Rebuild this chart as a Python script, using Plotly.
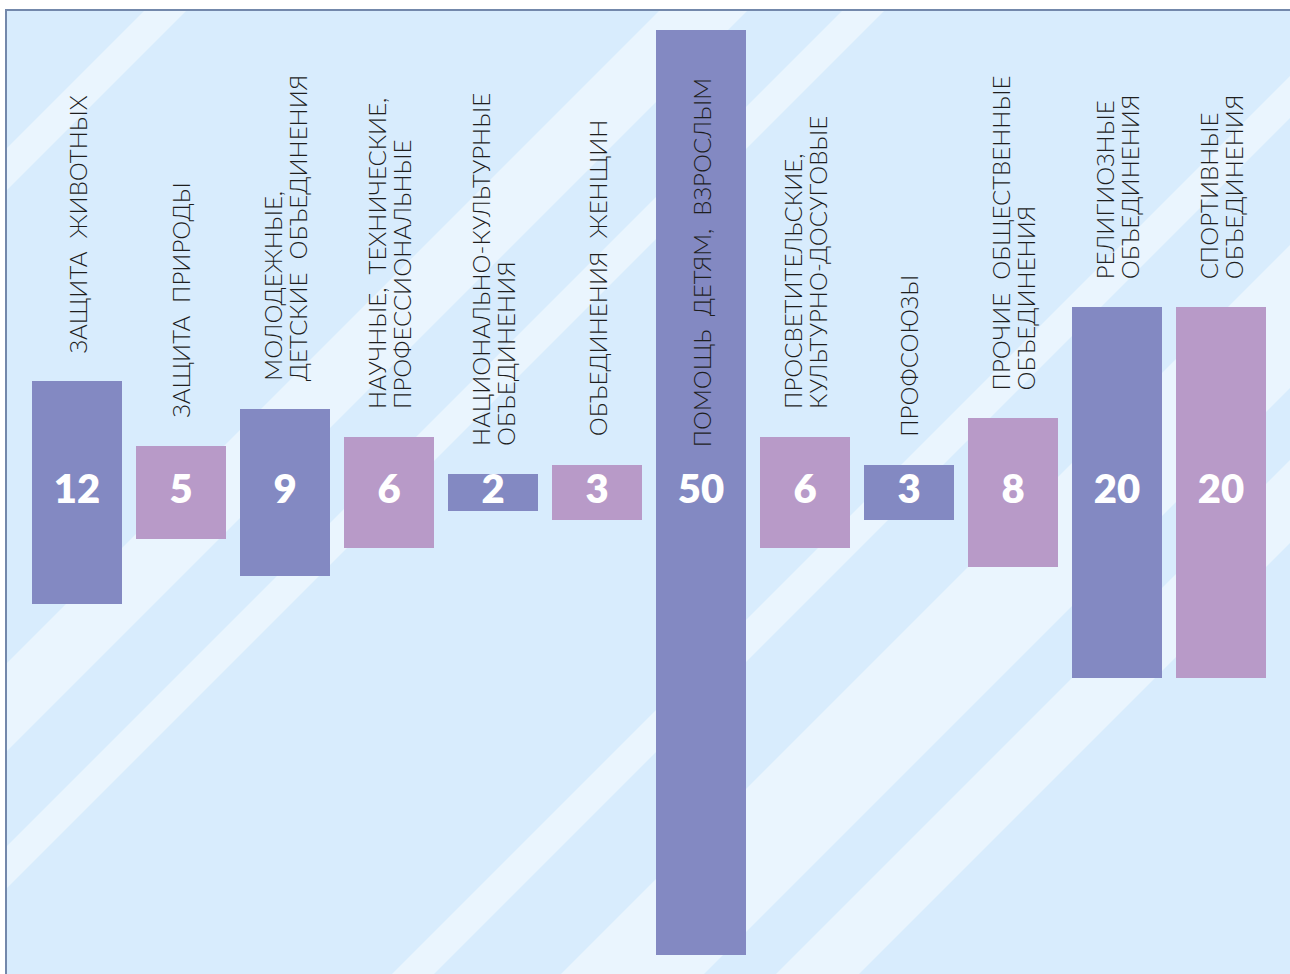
import plotly.graph_objects as go

# ---- data ----
categories = [
    "ЗАЩИТА  ЖИВОТНЫХ",
    "ЗАЩИТА  ПРИРОДЫ",
    "МОЛОДЕЖНЫЕ,<br>ДЕТСКИЕ  ОБЪЕДИНЕНИЯ",
    "НАУЧНЫЕ,  ТЕХНИЧЕСКИЕ,<br>ПРОФЕССИОНАЛЬНЫЕ",
    "НАЦИОНАЛЬНО-КУЛЬТУРНЫЕ<br>ОБЪЕДИНЕНИЯ",
    "ОБЪЕДИНЕНИЯ  ЖЕНЩИН",
    "ПОМОЩЬ  ДЕТЯМ,  ВЗРОСЛЫМ",
    "ПРОСВЕТИТЕЛЬСКИЕ,<br>КУЛЬТУРНО-ДОСУГОВЫЕ",
    "ПРОФСОЮЗЫ",
    "ПРОЧИЕ  ОБЩЕСТВЕННЫЕ<br>ОБЪЕДИНЕНИЯ",
    "РЕЛИГИОЗНЫЕ<br>ОБЪЕДИНЕНИЯ",
    "СПОРТИВНЫЕ<br>ОБЪЕДИНЕНИЯ",
]
values = [12, 5, 9, 6, 2, 3, 50, 6, 3, 8, 20, 20]

# ---- style ----
BLUE = "#8389c2"
PINK = "#b89ac8"
BG = "#d8ecfd"
STRIPE = "#eaf5fe"
BORDER = "#7388ab"

W, H = 1290, 974
ML, MT = 7, 11
XR = [-0.673, 11.663]
YR = [-26, 26]
LINE_GAP = 25  # px between label lines

idx = list(range(len(values)))
colors = [BLUE if i % 2 == 0 else PINK for i in idx]

fig = go.Figure()
fig.add_trace(go.Bar(
    x=idx, y=values, base=[-v / 2 for v in values],
    width=0.865, marker=dict(color=colors, line=dict(width=0)),
    hoverinfo="skip",
))
fig.add_trace(go.Scatter(
    x=idx, y=[0] * len(values), mode="text",
    text=[str(v) for v in values], textposition="middle center",
    textfont=dict(color="white", size=40, family="Lato", weight=800),
    hoverinfo="skip",
))

# rotated category labels (one annotation per line for tight line spacing)
for i, (lab, v) in enumerate(zip(categories, values)):
    yv = v / 2 if v <= 30 else 0.9
    lines = lab.split("<br>")
    n = len(lines)
    for k, ln in enumerate(lines):
        fig.add_annotation(
            x=i, y=yv, xref="x", yref="y", text=ln, showarrow=False,
            textangle=-90, xanchor="center", yanchor="bottom", yshift=27,
            xshift=(k - (n - 1) / 2) * LINE_GAP,
            align="left", borderpad=0,
            font=dict(family="Lato", size=24, color="#1e1e1e", weight=300),
        )

# decorative diagonal stripes (defined in pixel space, converted to data space)
def px2x(px):
    return XR[0] + (px - ML) / (W - ML) * (XR[1] - XR[0])

def py2y(py):
    return YR[1] - (py - MT) / (H - MT) * (YR[1] - YR[0])

bands = [(155, 197), (670, 758), (853, 895), (1366, 1408), (1535, 1678), (1750, 1833)]
shapes = []
for c1, c2 in bands:
    pts = [(c1 + 100, -100), (c2 + 100, -100), (c2 - 1100, 1100), (c1 - 1100, 1100)]
    path = "M " + " L ".join(f"{px2x(a):.4f},{py2y(b):.4f}" for a, b in pts) + " Z"
    shapes.append(dict(type="path", path=path, xref="x", yref="y",
                       fillcolor=STRIPE, line=dict(width=0), layer="below"))

# border lines (left and top)
shapes.append(dict(type="line", xref="paper", yref="paper",
                   x0=-1 / (W - ML), x1=-1 / (W - ML), y0=-0.01, y1=1 + 1 / (H - MT),
                   line=dict(color=BORDER, width=2)))
shapes.append(dict(type="line", xref="paper", yref="paper",
                   x0=-2 / (W - ML), x1=1.01, y0=1 + 1 / (H - MT), y1=1 + 1 / (H - MT),
                   line=dict(color=BORDER, width=2)))

fig.update_layout(
    width=W, height=H,
    margin=dict(l=ML, r=0, t=MT, b=0),
    paper_bgcolor="white", plot_bgcolor=BG,
    showlegend=False, shapes=shapes,
    xaxis=dict(range=XR, visible=False, fixedrange=True),
    yaxis=dict(range=YR, visible=False, fixedrange=True),
    bargap=0,
)

fig.write_html(
    "out.html",
    config={"displayModeBar": False},
    post_script="document.body.style.margin='0';document.body.style.overflow='hidden';",
)
